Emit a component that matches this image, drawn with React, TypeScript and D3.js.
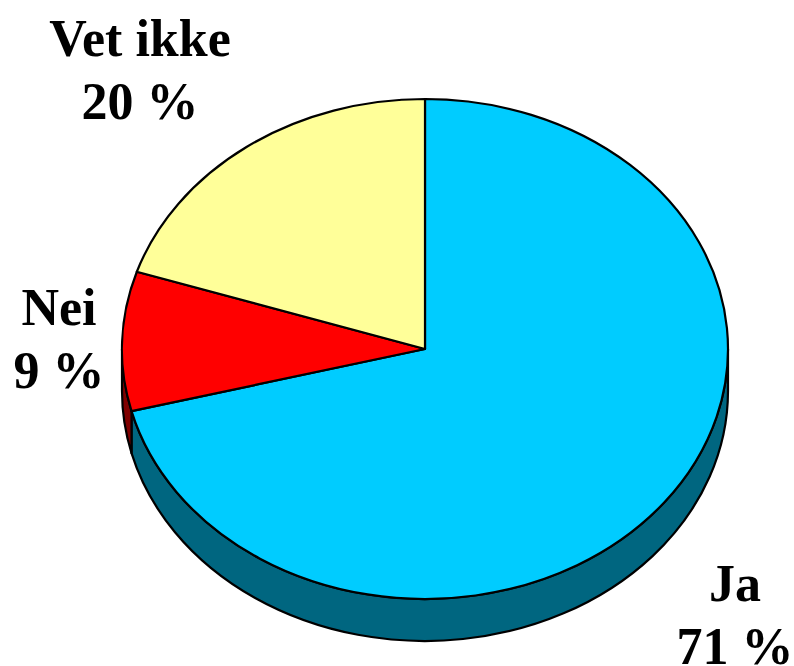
import React from "react";
import * as d3 from "d3";

const categories = ["Ja", "Nei", "Vet ikke"];
const values = [71, 9, 20];
const percentLabels = ["71 %", "9 %", "20 %"];
const topColors = ["#00CCFF", "#FF0000", "#FFFF99"];
const sideColors = ["#006680", "#800000", "#808050"];

const W = 794;
const H = 666;
const cx = 425;
const cy = 349;
const rx = 303;
const ry = 250;
const depth = 42;

const labelPos = [
  { x: 735, y: 601 },
  { x: 59, y: 325 },
  { x: 140, y: 56 },
];

function pt(a: number, dy = 0): [number, number] {
  return [cx + rx * Math.sin(a), cy - ry * Math.cos(a) + dy];
}

export default function App() {
  const pie = d3.pie<number>().sort(null).value((d) => d)(values);

  const tops = pie.map((s, i) => {
    const [x0, y0] = pt(s.startAngle);
    const [x1, y1] = pt(s.endAngle);
    const large = s.endAngle - s.startAngle > Math.PI ? 1 : 0;
    const d = `M${cx},${cy} L${x0},${y0} A${rx},${ry} 0 ${large} 1 ${x1},${y1} Z`;
    return <path key={"t" + i} d={d} fill={topColors[i]} stroke="#000" strokeWidth={2.2} strokeLinejoin="round" />;
  });

  const sides: React.ReactNode[] = [];
  pie.forEach((s, i) => {
    const a0 = Math.max(s.startAngle, Math.PI / 2);
    const a1 = Math.min(s.endAngle, (3 * Math.PI) / 2);
    if (a1 <= a0) return;
    const [x0, y0] = pt(a0);
    const [x1, y1] = pt(a1);
    const [x2, y2] = pt(a1, depth);
    const [x3, y3] = pt(a0, depth);
    const d = `M${x0},${y0} A${rx},${ry} 0 0 1 ${x1},${y1} L${x2},${y2} A${rx},${ry} 0 0 0 ${x3},${y3} Z`;
    sides.push(<path key={"s" + i} d={d} fill={sideColors[i]} stroke="#000" strokeWidth={2.2} strokeLinejoin="round" />);
  });

  return (
    <svg width={W} height={H} style={{ position: "absolute", left: 0, top: 0 }}>
      <rect width={W} height={H} fill="#fff" />
      {sides}
      {tops}
      {categories.map((c, i) => (
        <text
          key={"l" + i}
          x={labelPos[i].x}
          y={labelPos[i].y}
          textAnchor="middle"
          fontFamily="'Liberation Serif', 'Times New Roman', serif"
          fontWeight="bold"
          fontSize={52}
          fill="#000"
        >
          <tspan x={labelPos[i].x}>{c}</tspan>
          <tspan x={labelPos[i].x} dy={63}>{percentLabels[i]}</tspan>
        </text>
      ))}
    </svg>
  );
}
